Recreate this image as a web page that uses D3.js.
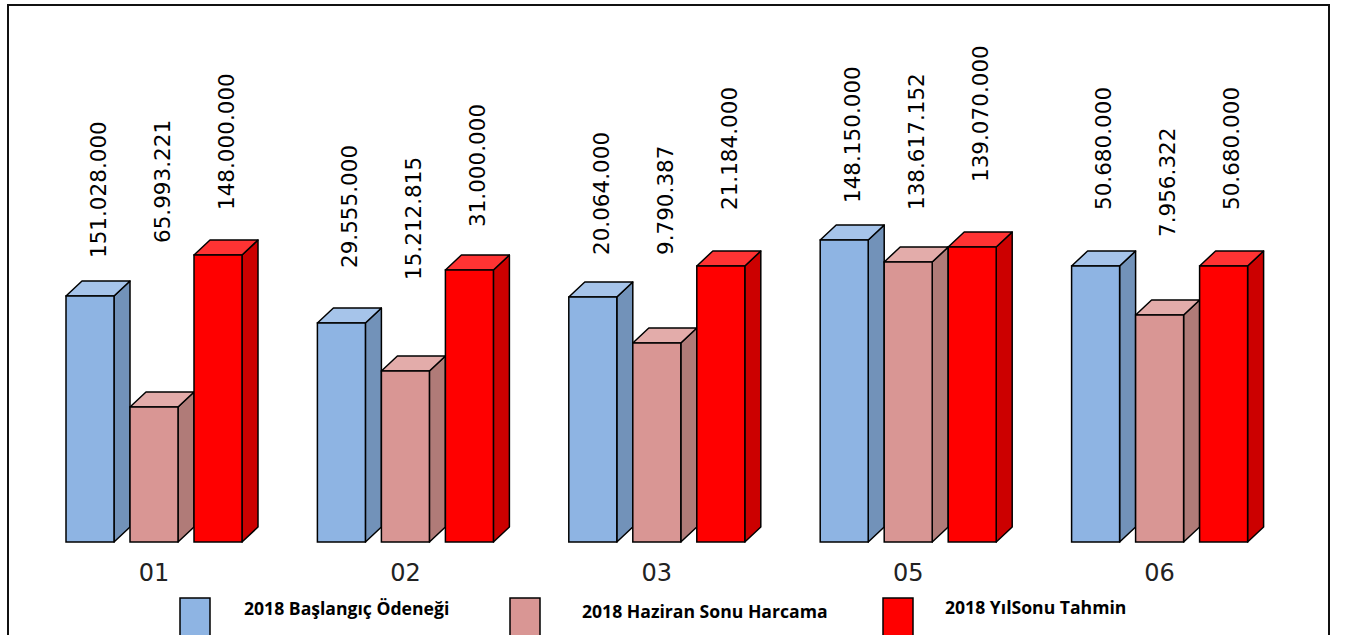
<!DOCTYPE html>
<html lang="tr">
<head>
<meta charset="UTF-8">
<title>2018 Ödenek / Harcama</title>
<script src="https://d3js.org/d3.v7.min.js"></script>
<style>
    body { margin: 0; background: #fff; }
    svg { display: block; }
    .val { font-family: "DejaVu Sans", sans-serif; font-size: 21.5px; fill: #000; }
    .cat { font-family: "DejaVu Sans", sans-serif; font-size: 24px; fill: #222; }
    .leg { font-family: "Open Sans", Lato, sans-serif; font-size: 17.6px; font-weight: bold; fill: #000; }
</style>
</head>
<body>
<div id="chart"></div>
<script>
    const categories = ["01", "02", "03", "05", "06"];
    const seriesNames = ["2018 Başlangıç Ödeneği", "2018 Haziran Sonu Harcama", "2018 YılSonu Tahmin"];

    // printed values (labels)
    const baslangic = ["151.028.000", "29.555.000", "20.064.000", "148.150.000", "50.680.000"];
    const haziran   = ["65.993.221", "15.212.815", "9.790.387", "138.617.152", "7.956.322"];
    const yilsonu   = ["148.000.000", "31.000.000", "21.184.000", "139.070.000", "50.680.000"];

    // drawn bar levels (the bars in the picture are not to scale with the labels)
    const baslangicLevel = [246, 219, 245, 302, 276];
    const haziranLevel   = [135, 171, 199, 280, 227];
    const yilsonuLevel   = [287, 272, 276, 295, 276];

    // where each label sits, same units
    const baslangicLabel = [284, 274, 287, 339, 332];
    const haziranLabel   = [299, 262, 287, 332, 305];
    const yilsonuLabel   = [332, 315, 332, 360, 332];

    const W = 1350, H = 635;
    const base = 542, depthX = 16, depthY = 15;

    const colors = [
        {front: "#8eb4e3", side: "#7292b9", top: "#a6c4ea"},
        {front: "#d99694", side: "#b07b78", top: "#e3acaa"},
        {front: "#ff0000", side: "#cc0000", top: "#ff3333"}
    ];

    const data = [];
    categories.forEach((c, i) => {
        data.push({cat: c, s: 0, level: baslangicLevel[i], lab: baslangicLabel[i], text: baslangic[i]});
        data.push({cat: c, s: 1, level: haziranLevel[i],   lab: haziranLabel[i],   text: haziran[i]});
        data.push({cat: c, s: 2, level: yilsonuLevel[i],   lab: yilsonuLabel[i],   text: yilsonu[i]});
    });

    const svg = d3.select("#chart").append("svg")
        .attr("width", W).attr("height", H);

    const x0 = d3.scaleBand().domain(categories).range([66, 1323]);
    const x1 = d3.scaleBand().domain([0, 1, 2]).range([0, 176]).paddingInner(0.25);
    const y = d3.scaleLinear().domain([0, 300]).range([base, base - 300]);

    // outer frame
    svg.append("rect")
        .attr("x", 8).attr("y", 5)
        .attr("width", 1321).attr("height", 660)
        .attr("fill", "none").attr("stroke", "#111").attr("stroke-width", 2);

    const bw = x1.bandwidth();
    const bars = svg.append("g").selectAll("g.bar")
        .data(data).enter().append("g").attr("class", "bar");

    bars.each(function(d) {
        const g = d3.select(this);
        const xl = x0(d.cat) + x1(d.s), xr = xl + bw;
        const yt = y(d.level), yb = y(0);
        const col = colors[d.s];
        // side
        g.append("path")
            .attr("d", `M${xr},${yb}L${xr + depthX},${yb - depthY}L${xr + depthX},${yt - depthY}L${xr},${yt}Z`)
            .attr("fill", col.side).attr("stroke", "#000").attr("stroke-width", 1.5).attr("stroke-linejoin", "round");
        // top
        g.append("path")
            .attr("d", `M${xl},${yt}L${xl + depthX},${yt - depthY}L${xr + depthX},${yt - depthY}L${xr},${yt}Z`)
            .attr("fill", col.top).attr("stroke", "#000").attr("stroke-width", 1.5).attr("stroke-linejoin", "round");
        // front
        g.append("rect")
            .attr("x", xl).attr("y", yt)
            .attr("width", bw).attr("height", yb - yt)
            .attr("fill", col.front).attr("stroke", "#000").attr("stroke-width", 1.5);
    });

    // value labels
    svg.append("g").selectAll("text")
        .data(data).enter().append("text")
        .attr("class", "val")
        .attr("transform", d => `translate(${x0(d.cat) + x1(d.s) + bw / 2 + 8},${y(d.lab)}) rotate(-90)`)
        .attr("dy", "0.36em")
        .text(d => d.text);

    // category labels
    svg.append("g").selectAll("text")
        .data(categories).enter().append("text")
        .attr("class", "cat")
        .attr("text-anchor", "middle")
        .attr("x", c => x0(c) + x1(1) + bw / 2)
        .attr("y", 581)
        .text(c => c);

    // legend
    const legX = [180, 510, 883];
    const legTextX = [244, 582, 945];
    const legTextY = [615, 618, 614];
    const leg = svg.append("g").selectAll("g")
        .data(seriesNames).enter().append("g");
    leg.append("rect")
        .attr("x", (d, i) => legX[i]).attr("y", 598)
        .attr("width", 30).attr("height", 45)
        .attr("fill", (d, i) => colors[i].front)
        .attr("stroke", "#000").attr("stroke-width", 1.5);
    leg.append("text")
        .attr("class", "leg")
        .attr("x", (d, i) => legTextX[i]).attr("y", (d, i) => legTextY[i])
        .text(d => d);
</script>
</body>
</html>
